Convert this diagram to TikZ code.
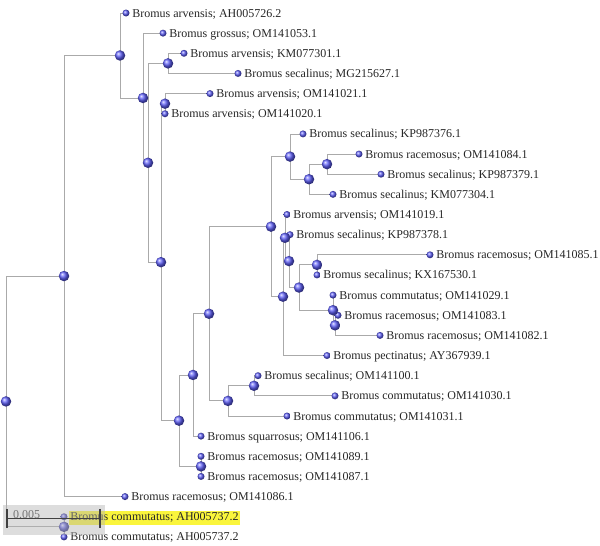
\documentclass[tikz,border=0pt]{standalone}
\usepackage{fontspec}
\setmainfont{Liberation Serif}
\usetikzlibrary{backgrounds}
\definecolor{branchgray}{RGB}{170,170,170}
\definecolor{ballblue}{RGB}{95,95,248}
\definecolor{hlyellow}{RGB}{250,245,60}
\definecolor{scalegray}{RGB}{180,180,180}
\tikzset{
  tip/.style={circle, inner sep=0pt, minimum size=7pt, shading=ball, ball color=ballblue},
  fork/.style={circle, inner sep=0pt, minimum size=10.5pt, shading=ball, ball color=ballblue},
  taxon/.style={font=\fontsize{12}{14}\selectfont, text=black!85, inner sep=0pt, anchor=base west, yshift=-4pt},
  branch/.style={draw=branchgray, line width=0.8pt},
}

\begin{document}
\begin{tikzpicture}[x=1pt, y=-1pt]
\useasboundingbox (0,0) rectangle (600,546);
% leaves, one row each 20.15 apart
\foreach \i/\x/\t in {1/126/{Bromus arvensis; AH005726.2}, 2/163/{Bromus grossus; OM141053.1},
    3/184/{Bromus arvensis; KM077301.1}, 4/238/{Bromus secalinus; MG215627.1},
    5/210/{Bromus arvensis; OM141021.1}, 6/165/{Bromus arvensis; OM141020.1},
    7/303/{Bromus secalinus; KP987376.1}, 8/359/{Bromus racemosus; OM141084.1},
    9/381/{Bromus secalinus; KP987379.1}, 10/333/{Bromus secalinus; KM077304.1},
    11/287/{Bromus arvensis; OM141019.1}, 12/290/{Bromus secalinus; KP987378.1},
    13/430/{Bromus racemosus; OM141085.1}, 14/317/{Bromus secalinus; KX167530.1},
    15/333/{Bromus commutatus; OM141029.1}, 16/338/{Bromus racemosus; OM141083.1},
    17/380/{Bromus racemosus; OM141082.1}, 18/327/{Bromus pectinatus; AY367939.1},
    19/258/{Bromus secalinus; OM141100.1}, 20/335/{Bromus commutatus; OM141030.1},
    21/287/{Bromus commutatus; OM141031.1}, 22/201/{Bromus squarrosus; OM141106.1},
    23/201/{Bromus racemosus; OM141089.1}, 24/201/{Bromus racemosus; OM141087.1},
    25/125/{Bromus racemosus; OM141086.1}, 27/64/{Bromus commutatus; AH005737.2}}
{
  \node[tip] (l\i) at (\x, {13+(\i-1)*20.15}) {};
  \node[taxon] (t\i) at ([xshift=2.5pt]l\i.east) {\t};
}
\node[tip] (l26) at (64,516.75) {};
\node[taxon, fill=hlyellow, inner xsep=1pt, inner ysep=2.2pt] (t26) at ([xshift=1.5pt]l26.east) {Bromus commutatus; AH005737.2};

% inner nodes
\foreach \n/\x/\y in {root/6/401.43, A/64/276.04, BB/64/526.83, B/120/55.48, C/143/97.96,
    D/148/162.77, E/168/63.38, F/161/262.17, G/165/103.68, H/179/420.66, I/193/374.95,
    J/201/466.38, K/209/313.75, L/271/226.62, M/228/400.89, N/254/385.78, O/290/156.57,
    Q/309/179.24, R/327/164.13, P/283/296.67, S/285/237.80, W/289/261.10, U/299/287.54,
    T/317/264.88, Z/333/310.21, AA/335/325.33}
  \node[fork] (\n) at (\x,\y) {};

\begin{pgfonlayer}{background}
\foreach \p/\c in {root/A, root/BB, A/B, A/l25, BB/l26, BB/l27, B/l1, B/C, C/l2, C/D,
    D/E, D/F, E/l3, E/l4, F/G, F/H, G/l5, G/l6, H/I, H/J, I/K, I/l22, J/l23, J/l24,
    K/L, K/M, L/O, L/P, M/N, M/l21, N/l19, N/l20, O/l7, O/Q, Q/R, Q/l10, R/l8, R/l9,
    P/S, P/l18, S/l11, S/W, W/l12, W/U, U/T, U/Z, T/l13, T/l14, Z/l15, Z/AA, AA/l16, AA/l17}
  \draw[branch] (\p.center) |- (\c.center);
\end{pgfonlayer}

% scale bar
\fill[scalegray, opacity=0.45] (3,505) rectangle (105,535);
\draw[black!75, line width=1.1pt] (7,518.5) -- (100,518.5);
\draw[black!75, line width=1.5pt] (7,509) -- (7,528) (100,509) -- (100,528);
\node[taxon, text=black!55, yshift=0pt] (scale) at (13,514.5) {0.005};
\end{tikzpicture}
\end{document}
